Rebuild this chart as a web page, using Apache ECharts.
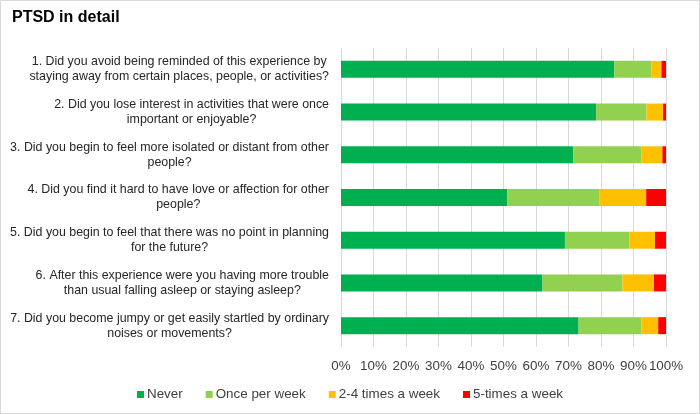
<!DOCTYPE html>
<html>
<head>
<meta charset="utf-8">
<script src="https://cdn.jsdelivr.net/npm/echarts@6/dist/echarts.min.js"></script>
<style>
html,body{margin:0;padding:0;background:#fff;}
#c{width:700px;height:414px;box-sizing:border-box;border:1px solid #d9d9d9;}
</style>
</head>
<body>
<div id="c"></div>
<script>
var categories = [
  "1. Did you avoid being reminded of this experience by\nstaying away from certain places, people, or activities?",
  "2. Did you lose interest in activities that were once\nimportant or enjoyable?",
  "3. Did you begin to feel more isolated or distant from other\npeople?",
  "4. Did you find it hard to have love or affection for other\npeople?",
  "5. Did you begin to feel that there was no point in planning\nfor the future?",
  "6. After this experience were you having more trouble\nthan usual falling asleep or staying asleep?",
  "7. Did you become jumpy or get easily startled by ordinary\nnoises or movements?"
];
var seriesNames = ["Never", "Once per week", "2-4 times a week", "5-times a week"];
var never      = [84.1, 78.5, 71.5, 51.2, 68.9, 62.0, 73.1];
var oncePerWeek= [11.4, 15.5, 20.9, 28.4, 19.8, 24.6, 19.3];
var twoToFour  = [3.1, 5.1, 6.5, 14.3, 7.9, 9.7, 5.2];
var fiveTimes  = [1.4, 0.9, 1.1, 6.1, 3.4, 3.7, 2.4];
var xTicks = [0, 10, 20, 30, 40, 50, 60, 70, 80, 90, 100];

var colors = ["#00b050", "#92d050", "#ffc000", "#ff0000"];
var dataSets = [never, oncePerWeek, twoToFour, fiveTimes];

var chart = echarts.init(document.getElementById('c'), null, {renderer: 'canvas'});
var series = seriesNames.map(function (n, i) {
  return {
    name: n, type: 'bar', stack: 'total', data: dataSets[i],
    barWidth: 17,
    itemStyle: {color: colors[i]},
    emphasis: {disabled: true}
  };
});
chart.setOption({
  animation: false,
  title: {
    text: 'PTSD in detail', left: 6, top: 4,
    textStyle: {fontFamily: 'Liberation Sans, Arial', fontSize: 16, fontWeight: 'bold', color: '#000'}
  },
  legend: {
    data: seriesNames, bottom: 7, left: 'center',
    icon: 'rect', itemWidth: 7, itemHeight: 7, itemGap: 23,
    textStyle: {fontFamily: 'Liberation Sans, Arial', fontSize: 13.4, color: '#404040', padding: [0, 0, 0, -2]}
  },
  grid: {left: 340, right: 33, top: 47, bottom: 66, containLabel: false},
  xAxis: {
    type: 'value', min: 0, max: 100, interval: 10,
    axisLine: {show: false}, axisTick: {show: false},
    splitLine: {show: true, lineStyle: {color: '#d9d9d9', width: 1}},
    axisLabel: {
      formatter: function (v) { return xTicks.indexOf(v) >= 0 ? v + '%' : ''; },
      fontFamily: 'Liberation Sans, Arial', fontSize: 13.4, color: '#404040', margin: 13
    }
  },
  yAxis: {
    type: 'category', data: categories, inverse: true,
    axisLine: {show: false}, axisTick: {show: false},
    axisLabel: {
      margin: 12,
      formatter: function (v) {
        return v.split('\n').map(function (l) { return '{a|' + l + '}'; }).join('\n');
      },
      rich: {a: {align: 'center', fontFamily: 'Liberation Sans, Arial', fontSize: 12.4, color: '#262626', lineHeight: 15}}
    }
  },
  series: series
});
</script>
</body>
</html>
